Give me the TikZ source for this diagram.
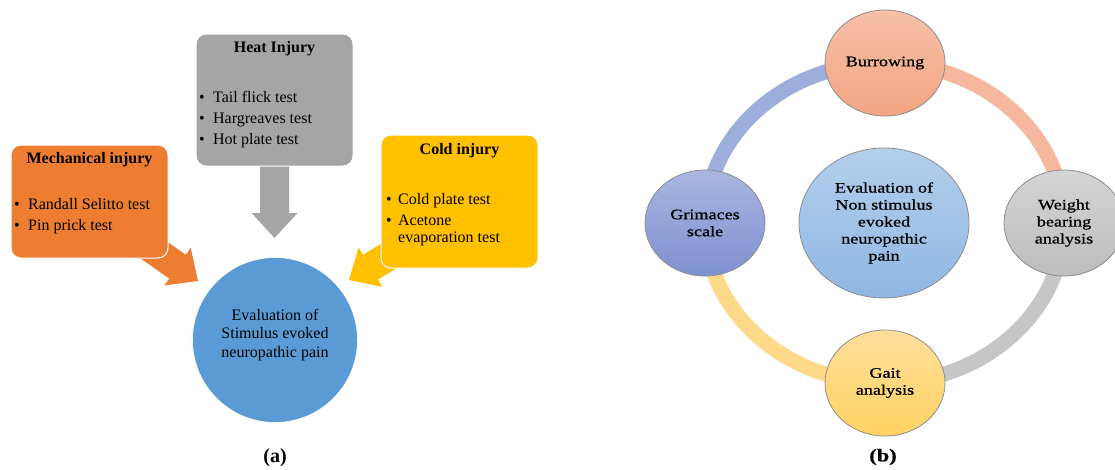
\documentclass[tikz,border=0pt]{standalone}
\usepackage{fontspec}
\setmainfont{Liberation Serif}
\newfontfamily\widefont[FakeStretch=1.25,FakeBold=0.8]{Liberation Serif}
\usetikzlibrary{shapes.geometric}
\definecolor{mechor}{HTML}{ED7D31}
\definecolor{heatgr}{HTML}{A5A5A5}
\definecolor{coldyl}{HTML}{FFC000}
\definecolor{evalbl}{HTML}{5B9BD5}
\definecolor{burT}{HTML}{F6BFA7}
\definecolor{burB}{HTML}{F3A583}
\definecolor{weiT}{HTML}{D4D4D4}
\definecolor{weiB}{HTML}{BDBDBD}
\definecolor{gaiT}{HTML}{FFDE9C}
\definecolor{gaiB}{HTML}{FFD262}
\definecolor{griT}{HTML}{A9B6E0}
\definecolor{griB}{HTML}{7E91D0}
\definecolor{cenT}{HTML}{B3CFEC}
\definecolor{cenB}{HTML}{8FB7E3}
\definecolor{ringbl}{HTML}{9DADDC}
\definecolor{ringsa}{HTML}{F5B89E}
\definecolor{ringgr}{HTML}{C6C6C6}
\definecolor{ringyl}{HTML}{FFD98A}
\definecolor{ellline}{HTML}{8C8C8C}
\newcommand\mybul[1]{\makebox[#1][l]{•}}
\tikzset{
  blockarr/.pic={\path[pic actions] (0,0) -- (-25,23) -- (-25,14.5) -- (-#1,14.5) -- (-#1,-14.5) -- (-25,-14.5) -- (-25,-23) -- cycle;},
  injbox/.style={rectangle, rounded corners=10pt, draw=white, line width=1pt, inner sep=0pt},
  txt/.style={inner sep=0pt, font=\fontsize{16}{19}\selectfont},
  ttl/.style={inner sep=0pt, font=\fontsize{16}{19}\selectfont\bfseries},
  ringseg/.style={line width=15pt, line cap=butt},
  ell/.style={ellipse, draw=ellline, line width=0.8pt, inner sep=0pt, align=center,
    minimum width=120pt, minimum height=106pt, font=\widefont\fontsize{14.5}{17}\selectfont},
  sublabel/.style={inner sep=0pt, font=\fontsize{20}{22}\selectfont\bfseries},
}
\begin{document}
\begin{tikzpicture}[x=1pt,y=1pt]
\useasboundingbox (0,0) rectangle (1115,-469);
% ---------- panel (a) ----------
\node[circle, fill=evalbl, draw=white, line width=0.6pt, minimum size=165pt, inner sep=0pt] (evalA) at (275,-340) {};
\node[txt, align=center, font=\fontsize{16}{18.5}\selectfont] (evalAT) at (275,-335) {Evaluation of\\Stimulus evoked\\neuropathic pain};
\coordinate (heattip) at (274.5,-238);
\coordinate (mechtip) at (198,-281);
\coordinate (coldtip) at (349,-280);
\pic[fill=heatgr, rotate=-90] at (heattip) {blockarr=80};
\pic[fill=mechor, rotate=-35] at (mechtip) {blockarr=72};
\pic[fill=coldyl, rotate=211] at (coldtip) {blockarr=72};
\node[injbox, fill=mechor, minimum width=157pt, minimum height=113pt] (mech) at (89.5,-201.5) {};
\node[injbox, fill=heatgr, minimum width=157pt, minimum height=132pt] (heat) at (274.5,-100) {};
\node[injbox, fill=coldyl, minimum width=157pt, minimum height=133pt] (cold) at (459.5,-201.5) {};
\node[ttl, anchor=base] (mechT) at (89.5,-163) {Mechanical injury};
\node[txt, anchor=base west] (mech1) at (14,-209) {\mybul{14pt}Randall Selitto test};
\node[txt, anchor=base west] (mech2) at (14,-230) {\mybul{14pt}Pin prick test};
\node[ttl, anchor=base] (heatT) at (274.5,-52) {Heat Injury};
\node[txt, anchor=base west] (heat1) at (199,-102) {\mybul{14pt}Tail flick test};
\node[txt, anchor=base west] (heat2) at (199,-123) {\mybul{14pt}Hargreaves test};
\node[txt, anchor=base west] (heat3) at (199,-144) {\mybul{14pt}Hot plate test};
\node[ttl, anchor=base] (coldT) at (459.5,-154) {Cold injury};
\node[txt, anchor=base west] (cold1) at (386,-204) {\mybul{12pt}Cold plate test};
\node[txt, anchor=base west] (cold2) at (386,-225) {\mybul{12pt}Acetone};
\node[txt, anchor=base west] (cold3) at (398,-242) {evaporation test};
\node[sublabel] (labA) at (275,-458) {(a)};
% ---------- panel (b) ----------
\coordinate (burC) at (885,-63);
\coordinate (weiC) at (1064,-223);
\coordinate (gaiC) at (885,-383);
\coordinate (griC) at (705,-223);
\draw[ringseg, ringbl] (griC) arc[start angle=180, end angle=90, x radius=180, y radius=160];
\draw[ringseg, ringsa] (burC) arc[start angle=90, end angle=0, x radius=179, y radius=160];
\draw[ringseg, ringgr] (weiC) arc[start angle=0, end angle=-90, x radius=179, y radius=160];
\draw[ringseg, ringyl] (gaiC) arc[start angle=270, end angle=180, x radius=180, y radius=160];
\node[ell, top color=burT, bottom color=burB] (bur) at (burC) {Burrowing};
\node[ell, top color=weiT, bottom color=weiB] (wei) at (weiC) {Weight\\bearing\\analysis};
\node[ell, top color=gaiT, bottom color=gaiB] (gai) at (gaiC) {Gait\\analysis};
\node[ell, top color=griT, bottom color=griB] (gri) at (griC) {Grimaces\\scale};
\node[ell, top color=cenT, bottom color=cenB, minimum width=170pt, minimum height=150pt] (cen) at (884,-223) {Evaluation of\\Non stimulus\\evoked\\neuropathic\\pain};
\node[sublabel, font=\widefont\fontsize{18}{20}\selectfont\bfseries] (labB) at (883,-457) {(b)};
\end{tikzpicture}
\end{document}
